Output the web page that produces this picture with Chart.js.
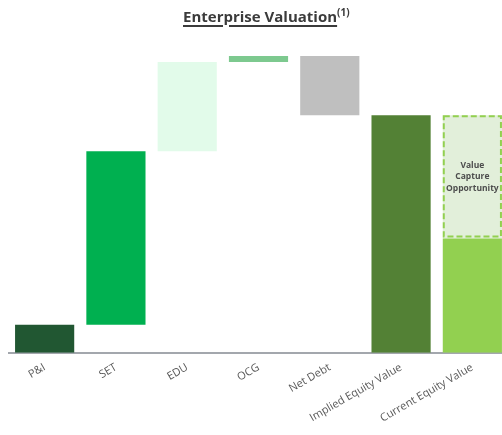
<!DOCTYPE html>
<html>
<head>
<meta charset="utf-8">
<script src="https://cdn.jsdelivr.net/npm/chart.js@4.4.1/dist/chart.umd.min.js"></script>
<style>
  html, body { margin: 0; padding: 0; background: #fff; overflow: hidden; }
  #wrap { position: relative; width: 508px; height: 435px; }
  #title { position: absolute; left: 183px; top: 0px; font: bold 15px "Open Sans", sans-serif; line-height: 24px; color: #3b3b3b; white-space: nowrap; z-index: 2; }
  #title u { text-decoration-thickness: 1.5px; text-underline-offset: 3px; }
  #title sup { font-size: 10px; }
</style>
</head>
<body>
<div id="wrap">
  <div id="title"><u>Enterprise Valuation</u><sup>(1)</sup></div>
  <canvas id="evChart"></canvas>
</div>
<script>
// values (same arbitrary units for every bar)
const categories = ["P&I", "SET", "EDU", "OCG", "Net Debt", "Implied Equity Value", "Current Equity Value"];
const steps = [28, 173, 89, 6, -59];
const impliedEquity = 237;
const currentEquity = 114;
const valueCapture = 123;
const captureLabel = ["Value", "Capture", "Opportunity"];

const barColors = ["#215732", "#00b050", "#e2fbea", "#7dc98f", "#bfbfbf", "#538135", "#92d050"];

// waterfall: each step floats on the running total
let running = 0;
const floating = steps.map(v => {
  const start = running;
  running += v;
  return [start, running];
});
floating.push([0, impliedEquity]);
floating.push([0, currentEquity]);

const last = categories.length - 1;
const captureData = categories.map((c, i) => i === last ? [currentEquity, currentEquity + valueCapture] : null);

// dashed outline + caption for the value capture box
const captureBox = {
  id: "captureBox",
  afterDatasetsDraw(chart) {
    const el = chart.getDatasetMeta(1).data[last];
    if (!el) return;
    const ctx = chart.ctx;
    const left = el.x - el.width / 2;
    const top = Math.min(el.y, el.base);
    const h = Math.abs(el.base - el.y);
    ctx.save();
    ctx.strokeStyle = "#92d050";
    ctx.lineWidth = 2;
    ctx.setLineDash([6, 3]);
    ctx.strokeRect(left + 1, top + 1, el.width - 2, h - 3);
    ctx.setLineDash([]);
    ctx.fillStyle = "#4d4d4d";
    ctx.font = "bold 8.5px 'Open Sans', sans-serif";
    ctx.textAlign = "center";
    ctx.textBaseline = "middle";
    const mid = top + h / 2;
    captureLabel.forEach((t, i) => {
      ctx.fillText(t, el.x, mid + (i - 1) * 11.5);
    });
    ctx.restore();
  }
};

new Chart(document.getElementById("evChart"), {
  type: "bar",
  data: {
    labels: categories,
    datasets: [{
      data: floating,
      backgroundColor: barColors,
      borderWidth: 0,
      grouped: false,
      categoryPercentage: 1,
      barPercentage: 0.83
    }, {
      data: captureData,
      backgroundColor: "#e2efda",
      borderWidth: 0,
      grouped: false,
      categoryPercentage: 1,
      barPercentage: 0.83
    }]
  },
  options: {
    responsive: true,
    maintainAspectRatio: false,
    animation: false,
    layout: { padding: { top: 56, left: 9, right: 0, bottom: 10 } },
    plugins: {
      legend: { display: false },
      tooltip: { enabled: false }
    },
    scales: {
      x: {
        grid: { display: false },
        border: { color: "#a3a7ad", width: 2 },
        ticks: {
          color: "#595959",
          font: { family: "Open Sans", size: 11 },
          minRotation: 30,
          maxRotation: 30,
          padding: 0
        }
      },
      y: { display: false, min: 0, max: 296 }
    }
  },
  plugins: [captureBox]
});
</script>
</body>
</html>
